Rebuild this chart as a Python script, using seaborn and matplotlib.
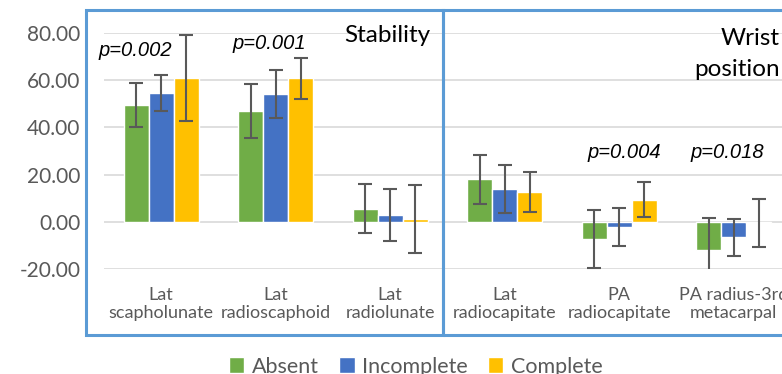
import pandas as pd
import numpy as np
import matplotlib
matplotlib.use("Agg")
import matplotlib.pyplot as plt
from matplotlib.patches import Rectangle
import seaborn as sns

# ---- data ----
measures = ["Lat\nscapholunate", "Lat\nradioscaphoid", "Lat\nradiolunate",
            "Lat\nradiocapitate", "PA\nradiocapitate", "PA radius-3rd\nmetacarpal"]
groups = ["Absent", "Incomplete", "Complete"]

absent_mean = [49.4, 46.8, 5.5, 18.1, -7.2, -11.8]
absent_err = [9.3, 11.4, 10.4, 10.4, 12.4, 13.2]
incomplete_mean = [54.6, 54.0, 2.7, 13.9, -2.2, -6.6]
incomplete_err = [7.6, 10.2, 11.0, 10.2, 7.9, 7.8]
complete_mean = [60.9, 60.8, 1.2, 12.5, 9.3, -0.6]
complete_err = [18.2, 8.7, 14.5, 8.5, 7.4, 10.2]

yticks = [-20, 0, 20, 40, 60, 80]
pvalues = ["p=0.002", "p=0.001", "p=0.004", "p=0.018"]
pvalue_x = [-0.23, 0.94, 4.04, 4.94]
pvalue_y = [72.6, 75.6, 29.5, 29.5]

colors = ["#70AD47", "#4472C4", "#FFC000"]

df = pd.DataFrame({
    "measure": measures * 3,
    "group": np.repeat(groups, len(measures)),
    "value": absent_mean + incomplete_mean + complete_mean,
    "err": absent_err + incomplete_err + complete_err,
})

sns.set_style("white")
plt.rcParams["font.family"] = ["Lato", "DejaVu Sans"]

fig = plt.figure(figsize=(7.82, 3.74), dpi=100)
ax = fig.add_axes([104 / 782, 105 / 374, 687 / 782, 236 / 374])

sns.barplot(data=df, x="measure", y="value", hue="group", order=measures,
            hue_order=groups, palette=colors, width=0.655, gap=0,
            errorbar=None, saturation=1, ax=ax, zorder=2)

# error bars on top of the bars drawn by seaborn
for container, g in zip(ax.containers, groups):
    sub = df[df["group"] == g]
    xs = [p.get_x() + p.get_width() / 2 for p in container.patches]
    ax.errorbar(xs, sub["value"], yerr=sub["err"], fmt="none",
                ecolor="#595959", elinewidth=1.5, capsize=5, capthick=1.5,
                zorder=3)

ax.set_ylim(-20, 80)
ax.set_xlim(-0.5, 5.5)
ax.set_yticks(yticks)
ax.set_yticklabels([f"{v:.2f}" for v in yticks])
ax.yaxis.grid(True, color="#D9D9D9", linewidth=1.2, zorder=0)
ax.set_axisbelow(True)
for s in ax.spines.values():
    s.set_visible(False)
ax.tick_params(axis="y", length=0, pad=17, labelsize=15, labelcolor="#595959")
ax.tick_params(axis="x", length=0, pad=13, labelsize=13, labelcolor="#595959")
for lbl in ax.get_xticklabels():
    lbl.set_multialignment("center")
    lbl.set_linespacing(1.15)
ax.set_xlabel("")
ax.set_ylabel("")

# p-values
for t, x, y in zip(pvalues, pvalue_x, pvalue_y):
    ax.text(x, y, t, ha="center", va="center", fontsize=14.5, style="italic",
            family=["Liberation Sans"], color="black", clip_on=False)

ax.text(2.347, 79, "Stability", ha="right", va="center", fontsize=17.5,
        color="black", clip_on=False)
ax.text(5.40, 71.1, "Wrist\nposition", ha="right", va="center", fontsize=17.5,
        multialignment="right", linespacing=1.55, color="black", clip_on=False)

# legend
handles, labels = ax.get_legend_handles_labels()
ax.legend_.remove()
fig.legend(handles, labels, loc="center", bbox_to_anchor=(0.532, 0.02),
           ncol=3, frameon=False, fontsize=15.5, labelcolor="#595959",
           handlelength=0.7, handleheight=0.7, handletextpad=0.35,
           columnspacing=0.95)

# blue section boxes
box_kw = dict(fill=False, edgecolor="#5B9BD5", linewidth=2.2,
              transform=fig.transFigure)
fig.add_artist(Rectangle((86 / 782, 39 / 374), 357 / 782, 325 / 374, **box_kw))
fig.add_artist(Rectangle((443 / 782, 39 / 374), 360 / 782, 325 / 374, **box_kw))

fig.savefig("out.png", dpi=100)
